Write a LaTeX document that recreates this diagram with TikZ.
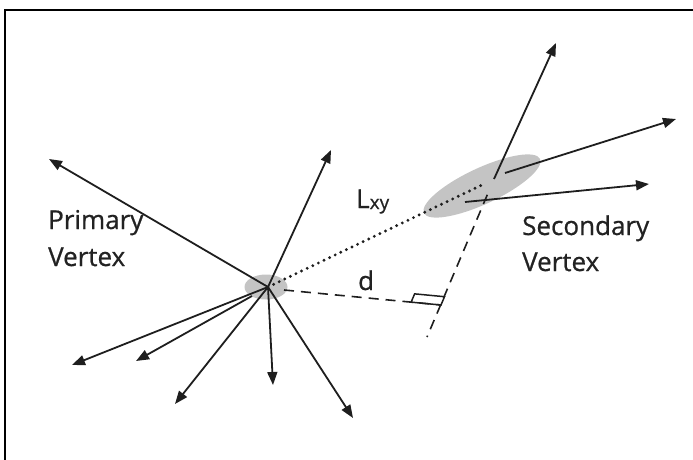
\documentclass[tikz,border=0pt]{standalone}
\usepackage{fontspec}
\setmainfont{Open Sans}
\newfontfamily\labelfont[FakeBold=0.7]{Open Sans}
\usepackage{tikz}
\usetikzlibrary{shapes.geometric, arrows.meta, positioning, calc}
\definecolor{trackgray}{HTML}{1E1E1E}
\definecolor{blobgray}{HTML}{C4C4C4}
\definecolor{labelgray}{HTML}{222222}

\begin{document}
\begin{tikzpicture}[
    x=1pt, y=-1pt,
    blob/.style={ellipse, fill=blobgray, draw=none, inner sep=0pt},
    track/.style={-{Triangle[length=13pt, width=10pt]}, line width=1.8pt, trackgray},
    flight/.style={line width=3.2pt, trackgray, line cap=round, dash pattern=on 0pt off 6.2pt},
    impact/.style={line width=1.6pt, trackgray, dash pattern=on 10pt off 7pt},
    lbl/.style={font=\labelfont\fontsize{26}{36}\selectfont, text=labelgray, align=left, inner sep=0pt}
]
\useasboundingbox (0,0) rectangle (693,460);

% Frame
\draw[line width=2pt, black] (5,461) -- (5,10) -- (694,10);

% Vertices
\node[blob, minimum width=43pt, minimum height=25pt] (pv) at (266,287) {};
\node[blob, minimum width=128pt, minimum height=36pt, rotate=25] (sv) at (482,186) {};
\coordinate (pvc) at (268,287);
\coordinate (svc) at (484,184);

% Primary tracks
\coordinate (p1) at (49,159);
\coordinate (p2) at (331,150);
\coordinate (p3) at (72,365);
\coordinate (p4) at (136,361);
\coordinate (p5) at (175,404);
\coordinate (p6) at (273,385);
\coordinate (p7) at (353,418);
\coordinate (p4s) at (252,296);
\foreach \t in {p1,p2,p3,p5,p6,p7}
    \draw[track] (pvc) -- (\t);
\draw[track] (p4s) -- (p4);

% Secondary tracks
\coordinate (s1s) at (494,179);
\coordinate (s1) at (556,43);
\coordinate (s2s) at (505,173);
\coordinate (s2) at (676,119);
\coordinate (s3s) at (465,202);
\coordinate (s3) at (649,184);
\draw[track] (s1s) -- (s1);
\draw[track] (s2s) -- (s2);
\draw[track] (s3s) -- (s3);

% Decay length and impact parameter
\draw[flight] (pvc) -- (svc);
\coordinate (back) at (427,337);
\coordinate (foot) at (441,305);
\coordinate (dstart) at (284,290);
\draw[impact] ($(s1s)!0.1!(back)$) -- (back);
\draw[impact] (dstart) -- (foot);
\draw[line width=1.5pt, trackgray] (foot) -- ($(foot)!30pt!(dstart)$)
    -- ($(foot)!30pt!(dstart) + (3.5,-8.3)$) -- ($(foot) + (3.5,-8.3)$) -- cycle;

% Labels
\node[lbl, anchor=base west] (plbl) at (48,229) {Primary};
\node[lbl, anchor=base west] (pvlbl) at (48,266) {Vertex};
\node[lbl, anchor=base west] (slbl) at (522,235) {Secondary};
\node[lbl, anchor=base west] (svlbl) at (522,271) {Vertex};
\node[lbl, anchor=base west] (lxy) at (356,208) {L\raisebox{-1pt}{\fontsize{19}{19}\selectfont xy}};
\node[lbl, anchor=base west] (dlbl) at (358,290) {d};

\end{tikzpicture}
\end{document}
